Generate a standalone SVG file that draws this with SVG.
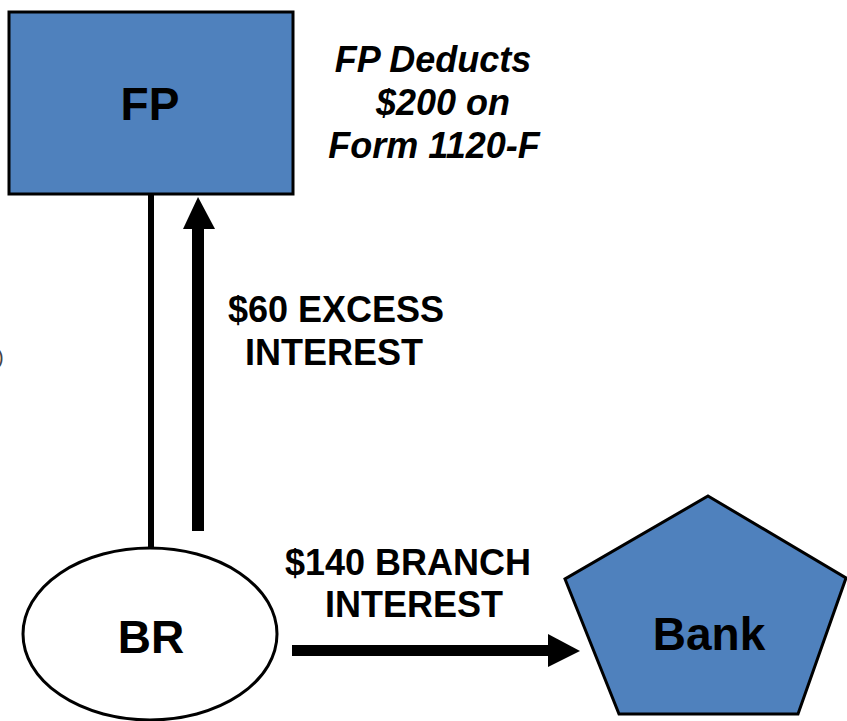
<svg xmlns="http://www.w3.org/2000/svg" width="847" height="721" viewBox="0 0 847 721">
<style>
.lbl{font-family:"Liberation Sans",Arial,sans-serif;font-weight:bold;fill:#000;}
.node{font-size:46px;text-anchor:middle;}
.edge{font-size:36px;text-anchor:middle;}
.note{font-size:36px;font-style:italic;text-anchor:middle;}
.shape{fill:#4F81BD;stroke:#000;stroke-width:3;}
</style>
<rect width="847" height="721" fill="#fff"/>
<g id="connectors">
  <line x1="151" y1="195" x2="151" y2="547" stroke="#000" stroke-width="6"/>
  <rect x="192" y="228" width="12" height="303" fill="#000"/>
  <polygon points="183,229 198,197 215,229" fill="#000"/>
  <rect x="292" y="645" width="257" height="11" fill="#000"/>
  <polygon points="548,634 580,651 548,667" fill="#000"/>
  <text class="lbl edge" x="336" y="322">$60 EXCESS</text>
  <text class="lbl edge" x="334" y="365">INTEREST</text>
  <text class="lbl edge" x="408" y="575">$140 BRANCH</text>
  <text class="lbl edge" x="414" y="617">INTEREST</text>
</g>
<g id="FP">
  <rect class="shape" x="9" y="12" width="284" height="182"/>
  <text class="lbl node" x="150" y="120">FP</text>
</g>
<g id="note">
  <text class="lbl note" x="433" y="72">FP Deducts</text>
  <text class="lbl note" x="443" y="115">$200 on</text>
  <text class="lbl note" x="434" y="158">Form 1120-F</text>
</g>
<g id="BR">
  <ellipse cx="150" cy="634" rx="127" ry="86" fill="#fff" stroke="#000" stroke-width="3"/>
  <text class="lbl node" x="151" y="653">BR</text>
</g>
<g id="Bank">
  <polygon class="shape" points="708,496 846,578 798,714 619,714 565,579"/>
  <text class="lbl node" x="709" y="650">Bank</text>
</g>
<text x="-3" y="364" font-family="Liberation Sans,Arial,sans-serif" font-size="20" fill="#444">)</text>
</svg>
